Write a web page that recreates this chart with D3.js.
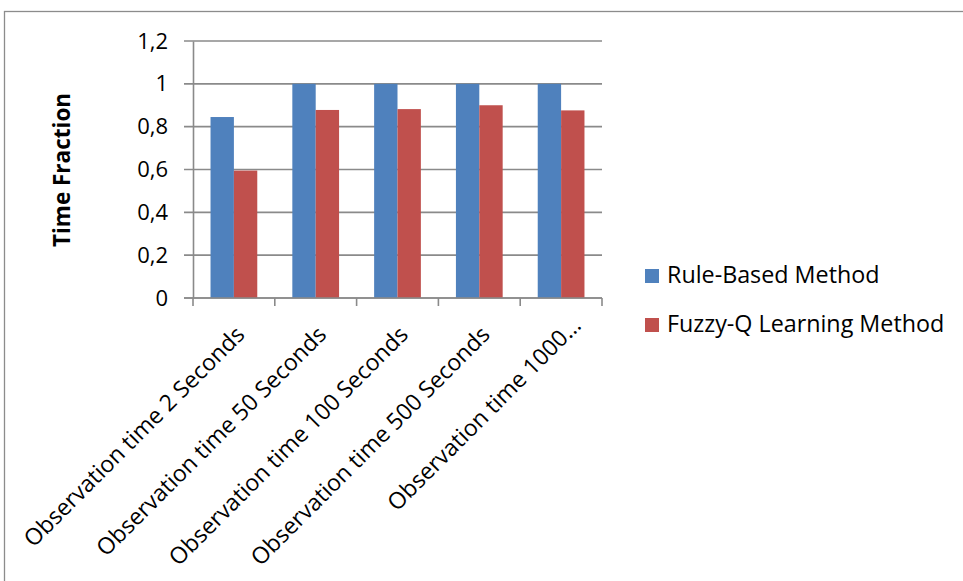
<!DOCTYPE html>
<html>
<head>
<meta charset="utf-8">
<script src="https://cdn.jsdelivr.net/npm/d3@7"></script>
<style>
  html, body { margin: 0; padding: 0; background: #fff; }
  svg { display: block; font-family: "Open Sans", Lato, sans-serif; }
</style>
</head>
<body>
<svg id="chart" width="963" height="581"></svg>
<script>
// Categories and series values
const categories = [
  "Observation time 2 Seconds",
  "Observation time 50 Seconds",
  "Observation time 100 Seconds",
  "Observation time 500 Seconds",
  "Observation time 1000\u2026"
];
const seriesNames = ["Rule-Based Method", "Fuzzy-Q Learning Method"];
const ruleBased = [0.845, 1.0, 1.0, 1.0, 1.0];
const fuzzyQ = [0.595, 0.878, 0.882, 0.90, 0.876];
const yTicks = [0, 0.2, 0.4, 0.6, 0.8, 1.0, 1.2];
const colors = ["#4F81BD", "#C0504D"];

const svg = d3.select("#chart");
const W = 963, H = 581;

// Outer chart frame
svg.append("rect")
  .attr("x", 4.5).attr("y", 11.5)
  .attr("width", W + 10).attr("height", H + 10)
  .attr("fill", "none").attr("stroke", "#8c8c8c").attr("stroke-width", 1.3);

const plot = { left: 193, right: 602, top: 41, bottom: 298 };

const x = d3.scaleBand().domain(categories).range([plot.left, plot.right]).padding(0);
const xs = d3.scaleBand().domain(seriesNames).range([0, x.bandwidth()])
  .paddingInner(0).paddingOuter(0.75);
const y = d3.scaleLinear().domain([0, 1.2]).range([plot.bottom, plot.top]);

const fmt = d3.formatLocale({ decimal: ",", thousands: ".", grouping: [3], currency: ["", ""] }).format("~g");

// Horizontal gridlines with tick stubs left of the axis
svg.append("g").selectAll("line").data(yTicks).join("line")
  .attr("x1", plot.left - 9).attr("x2", plot.right)
  .attr("y1", d => y(d)).attr("y2", d => y(d))
  .attr("stroke", "#8a8a8a").attr("stroke-width", 1.6);

// Y axis via d3.axisLeft (line + labels)
const yAxis = svg.append("g")
  .attr("transform", `translate(${plot.left},0)`)
  .call(d3.axisLeft(y).tickValues(yTicks).tickFormat(fmt).tickSize(0).tickPadding(25));
yAxis.select(".domain").attr("stroke", "#8a8a8a").attr("stroke-width", 1.6);
yAxis.selectAll("text").attr("font-size", 22).attr("fill", "#000")
  .attr("font-family", "'Open Sans', sans-serif");

// Bars
const rows = categories.map((c, i) => ({ c, vals: [ruleBased[i], fuzzyQ[i]] }));
const groups = svg.append("g").selectAll("g").data(rows).join("g")
  .attr("transform", d => `translate(${x(d.c)},0)`);
groups.selectAll("rect").data(d => d.vals.map((v, k) => ({ v, k }))).join("rect")
  .attr("x", d => xs(seriesNames[d.k]))
  .attr("width", xs.bandwidth())
  .attr("y", d => y(d.v))
  .attr("height", d => y(0) - y(d.v))
  .attr("fill", d => colors[d.k]);

// X axis line with boundary ticks
svg.append("line")
  .attr("x1", plot.left - 9).attr("x2", plot.right)
  .attr("y1", plot.bottom).attr("y2", plot.bottom)
  .attr("stroke", "#8a8a8a").attr("stroke-width", 1.6);
const bounds = categories.map(c => x(c)).concat([plot.right]);
svg.append("g").selectAll("line").data(bounds).join("line")
  .attr("x1", d => d).attr("x2", d => d)
  .attr("y1", plot.bottom).attr("y2", plot.bottom + 8)
  .attr("stroke", "#8a8a8a").attr("stroke-width", 1.6);

// Rotated category labels (truncated ones sit a little further out)
svg.append("g").selectAll("text").data(categories).join("text")
  .attr("transform", d => {
    const cx = x(d) + x.bandwidth() / 2 + 12;
    const cy = plot.bottom + 38;
    return `translate(${cx},${cy}) rotate(-45)`;
  })
  .attr("dx", d => d.endsWith("\u2026") ? 13 : 0)
  .attr("text-anchor", "end")
  .attr("font-size", 23)
  .attr("fill", "#000")
  .text(d => d);

// Y axis title
svg.append("text")
  .attr("transform", `translate(70,170) rotate(-90)`)
  .attr("text-anchor", "middle")
  .attr("font-size", 22.5)
  .attr("font-weight", "bold")
  .attr("fill", "#000")
  .text("Time Fraction");

// Legend
const legend = svg.append("g").selectAll("g").data(seriesNames).join("g")
  .attr("transform", (d, i) => `translate(645,${269 + i * 49})`);
legend.append("rect")
  .attr("width", 14).attr("height", 14)
  .attr("fill", (d, i) => colors[i]);
legend.append("text")
  .attr("x", 22).attr("y", 14)
  .attr("font-size", 23.3)
  .attr("fill", "#000")
  .text(d => d);
</script>
</body>
</html>
